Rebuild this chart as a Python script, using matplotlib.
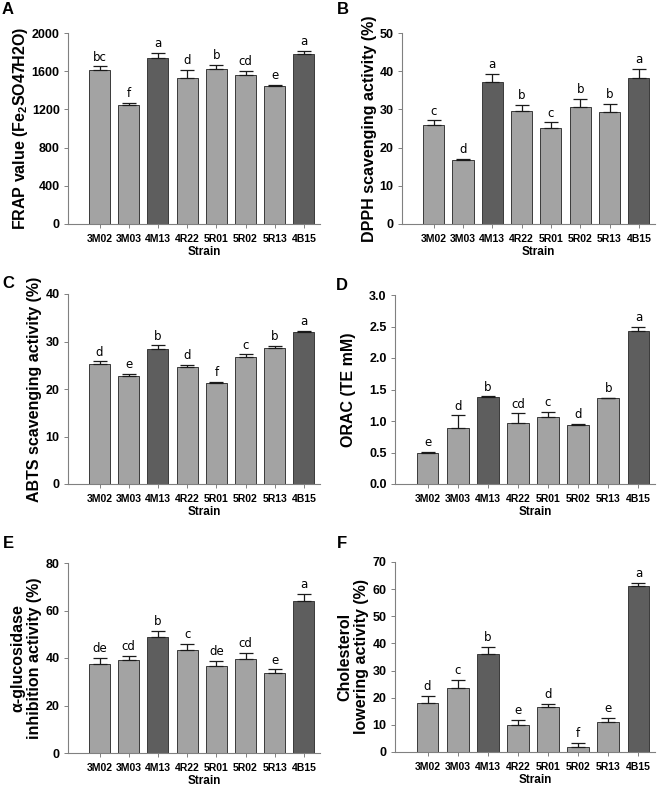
import matplotlib
matplotlib.use("Agg")
import matplotlib.pyplot as plt
import numpy as np

plt.rcParams['font.family'] = ['Liberation Sans', 'DejaVu Sans']
plt.rcParams['mathtext.fontset'] = 'custom'
plt.rcParams['mathtext.rm'] = 'Liberation Sans:bold'
plt.rcParams['mathtext.bf'] = 'Liberation Sans:bold'

strains = ['3M02', '3M03', '4M13', '4R22', '5R01', '5R02', '5R13', '4B15']
dark = [False, False, True, False, False, False, False, True]

frap = [1608, 1245, 1734, 1524, 1622, 1559, 1444, 1776]
frap_err = [42, 21, 56, 88, 46, 42, 11, 39]
frap_sig = ['bc', 'f', 'a', 'd', 'b', 'cd', 'e', 'a']

dpph = [26.0, 16.7, 37.1, 29.6, 25.2, 30.7, 29.4, 38.2]
dpph_err = [1.1, 0.3, 2.1, 1.6, 1.4, 2.1, 2.0, 2.5]
dpph_sig = ['c', 'd', 'a', 'b', 'c', 'b', 'b', 'a']

abts = [25.3, 22.7, 28.4, 24.6, 21.3, 26.8, 28.6, 31.9]
abts_err = [0.5, 0.4, 0.8, 0.4, 0.2, 0.5, 0.5, 0.3]
abts_sig = ['d', 'e', 'b', 'd', 'f', 'c', 'b', 'a']

orac = [0.49, 0.89, 1.38, 0.97, 1.07, 0.93, 1.36, 2.43]
orac_err = [0.02, 0.20, 0.01, 0.15, 0.07, 0.02, 0.01, 0.07]
orac_sig = ['e', 'd', 'b', 'cd', 'c', 'd', 'b', 'a']

gluc = [37.3, 39.3, 49.0, 43.2, 36.6, 39.6, 33.7, 64.0]
gluc_err = [2.7, 1.5, 2.5, 2.7, 2.1, 2.4, 1.5, 2.9]
gluc_sig = ['de', 'cd', 'b', 'c', 'de', 'cd', 'e', 'a']

chol = [17.9, 23.7, 36.2, 10.1, 16.7, 2.0, 11.1, 61.3]
chol_err = [2.9, 2.8, 2.6, 1.7, 0.9, 1.3, 1.4, 1.0]
chol_sig = ['d', 'c', 'b', 'e', 'd', 'f', 'e', 'a']

W, H = 671, 799
fig = plt.figure(figsize=(W / 100, H / 100), dpi=100)


def px_axes(left, right, top, bottom):
    return fig.add_axes([left / W, 1 - bottom / H, (right - left) / W, (bottom - top) / H])


panels = [
    # letter, values, errors, sig, ylabel, ymax, step, fmt, box, letter pos, ylabel x
    ('A', frap, frap_err, frap_sig, r'FRAP value (Fe$_\mathbf{2}$SO47H2O)', 2000, 400, '{:.0f}',
     (68, 320, 33, 224), (8, 10), 21),
    ('B', dpph, dpph_err, dpph_sig, 'DPPH scavenging activity (%)', 50, 10, '{:.0f}',
     (402, 655, 33, 224), (343, 10), 370),
    ('C', abts, abts_err, abts_sig, 'ABTS scavenging activity (%)', 40, 10, '{:.0f}',
     (68, 320, 294, 484), (8, 284), 35),
    ('D', orac, orac_err, orac_sig, 'ORAC (TE mM)', 3.0, 0.5, '{:.1f}',
     (395, 655, 295, 484), (342, 286), 349),
    ('E', gluc, gluc_err, gluc_sig, 'α-glucosidase\ninhibition activity (%)', 80, 20, '{:.0f}',
     (68, 320, 563, 753), (8, 543), 26),
    ('F', chol, chol_err, chol_sig, 'Cholesterol\nlowering activity (%)', 70, 10, '{:.0f}',
     (395, 655, 562, 752), (342, 543), 353),
]

x = np.arange(len(strains))
colors = ['#5e5e5e' if d else '#a3a3a3' for d in dark]

for letter, vals, errs, sig, ylab, ymax, step, fmt, box, lpos, ylx in panels:
    ax = px_axes(*box)
    ax.bar(x, vals, width=0.72, color=colors, edgecolor='#3a3a3a', linewidth=0.7, zorder=2)
    ax.errorbar(x, vals, yerr=[np.zeros(len(vals)), errs], fmt='none', ecolor='#1a1a1a',
                elinewidth=0.9, capsize=5, capthick=0.9, zorder=3)
    for xi, v, e, s in zip(x, vals, errs, sig):
        ax.annotate(s, (xi, v + e), xytext=(0, 2), textcoords='offset points',
                    ha='center', va='bottom', fontsize=8.5, family=['DejaVu Sans'])
    ax.set_xlim(-1.08, 7.55)
    ax.set_ylim(0, ymax)
    ticks = np.arange(0, ymax + step / 2, step)
    ax.set_yticks(ticks)
    ax.set_yticklabels([fmt.format(t) for t in ticks], fontsize=9, fontweight='bold')
    ax.set_xticks(x)
    ax.set_xticklabels(strains, fontsize=7.5, fontweight='bold')
    for side in ['top', 'right']:
        ax.spines[side].set_visible(False)
    for side in ['left', 'bottom']:
        ax.spines[side].set_color('#808080')
        ax.spines[side].set_linewidth(0.8)
    ax.tick_params(axis='both', direction='out', length=3, width=0.7, color='#808080', pad=3)
    ax.tick_params(axis='x', pad=4)

    left, right, top, bottom = box
    fig.text(ylx / W, 1 - ((top + bottom) / 2) / H, ylab, rotation=90, ha='center', va='center',
             fontsize=11.5, fontweight='bold', linespacing=1.15)
    fig.text(((left + right) / 2 + 10) / W, 1 - (bottom + 28) / H, 'Strain', ha='center', va='center',
             fontsize=8.5, fontweight='bold')
    fig.text(lpos[0] / W, 1 - lpos[1] / H, letter, ha='center', va='center',
             fontsize=12, fontweight='bold')

fig.savefig('out.png', dpi=100)
